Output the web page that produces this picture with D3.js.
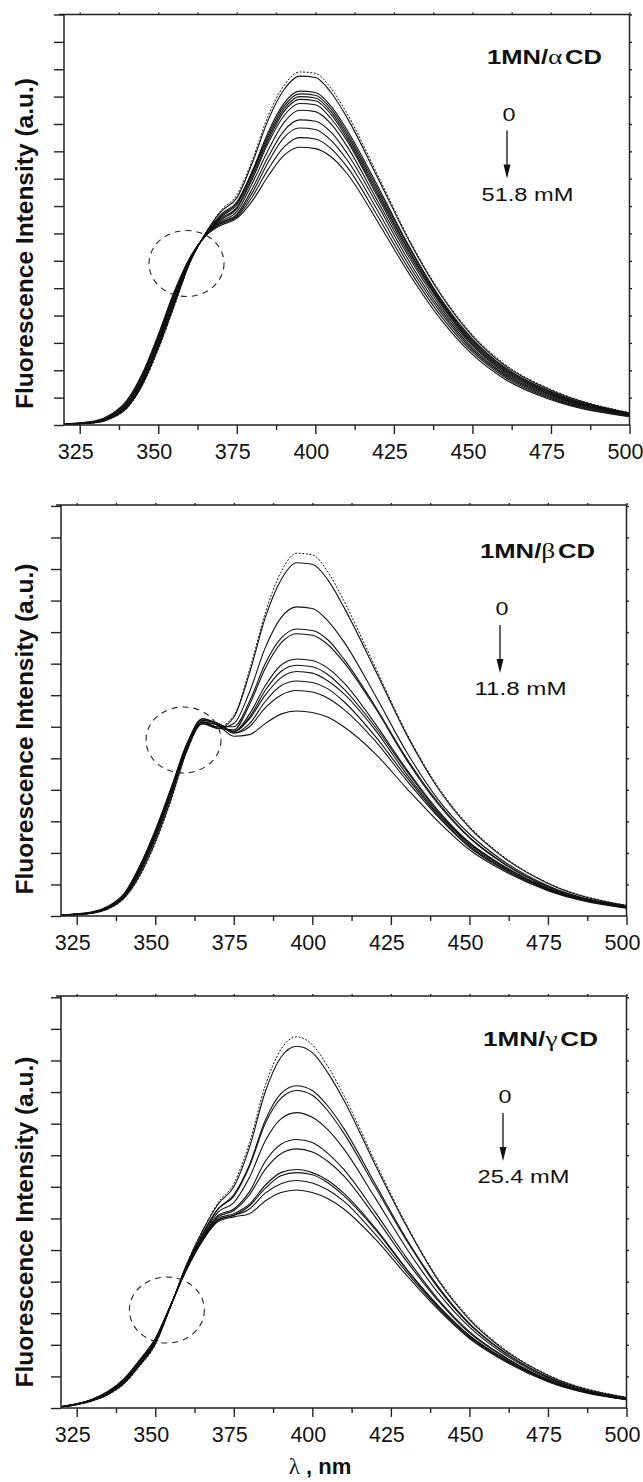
<!DOCTYPE html>
<html>
<head>
<meta charset="utf-8">
<script src="https://cdn.jsdelivr.net/npm/d3@7/dist/d3.min.js"></script>
<style>
  body { margin: 0; background: #fff; }
  svg { display: block; }
  text { fill: #111; }
</style>
</head>
<body>
<svg id="fig" width="643" height="1482"></svg>
<script>
// wavelength grid (nm) the spectra were read at
const wavelengths = [320, 330, 335, 340, 345, 350, 355, 360, 365, 370, 375, 380, 385, 390, 395, 400, 405, 410, 420, 430, 440, 450, 460, 475, 500];

// tick values
const majorTicks = [325, 350, 375, 400, 425, 450, 475, 500];
const minorTicks = [337.5, 362.5, 387.5, 412.5, 437.5, 462.5, 487.5];

// 1MN / alpha-CD  (0 mM dotted, then increasing CD)
const alphaRef = [0.02, 0.08, 0.24, 0.6, 1.45, 2.75, 4.3, 5.9, 7.0, 7.85, 8.4, 9.7, 11.3, 12.4, 12.9, 12.85, 12.3, 11.4, 9.1, 6.75, 4.8, 3.3, 2.25, 1.3, 0.45];
const alphaSeries = [
  [0.02, 0.08, 0.25, 0.62, 1.48, 2.8, 4.35, 5.92, 7.0, 7.8, 8.3, 9.6, 11.15, 12.25, 12.75, 12.7, 12.15, 11.25, 9.0, 6.7, 4.75, 3.25, 2.2, 1.27, 0.44],
  [0.02, 0.09, 0.26, 0.65, 1.52, 2.85, 4.4, 5.94, 6.98, 7.7, 8.15, 9.3, 10.7, 11.75, 12.2, 12.15, 11.65, 10.8, 8.7, 6.5, 4.6, 3.15, 2.13, 1.22, 0.42],
  [0.02, 0.09, 0.27, 0.67, 1.55, 2.9, 4.45, 5.95, 6.97, 7.65, 8.1, 9.25, 10.6, 11.65, 12.1, 12.05, 11.55, 10.7, 8.6, 6.45, 4.55, 3.1, 2.1, 1.2, 0.41],
  [0.02, 0.1, 0.28, 0.69, 1.58, 2.95, 4.5, 5.97, 6.96, 7.6, 8.05, 9.2, 10.5, 11.55, 12.0, 11.95, 11.45, 10.6, 8.5, 6.35, 4.5, 3.05, 2.06, 1.17, 0.4],
  [0.03, 0.1, 0.29, 0.71, 1.61, 3.0, 4.55, 5.98, 6.95, 7.55, 7.95, 9.1, 10.4, 11.45, 11.9, 11.85, 11.35, 10.5, 8.4, 6.3, 4.45, 3.0, 2.02, 1.14, 0.39],
  [0.03, 0.11, 0.3, 0.73, 1.65, 3.05, 4.6, 6.0, 6.95, 7.5, 7.9, 9.0, 10.3, 11.3, 11.75, 11.7, 11.2, 10.4, 8.3, 6.2, 4.4, 2.95, 1.98, 1.11, 0.38],
  [0.03, 0.11, 0.31, 0.76, 1.7, 3.1, 4.65, 6.02, 6.94, 7.45, 7.8, 8.85, 10.05, 11.05, 11.5, 11.45, 11.0, 10.2, 8.15, 6.1, 4.3, 2.9, 1.93, 1.08, 0.37],
  [0.03, 0.12, 0.33, 0.79, 1.75, 3.15, 4.7, 6.04, 6.93, 7.4, 7.7, 8.65, 9.8, 10.75, 11.15, 11.1, 10.7, 9.95, 8.0, 5.95, 4.2, 2.82, 1.88, 1.04, 0.35],
  [0.03, 0.13, 0.35, 0.82, 1.8, 3.2, 4.75, 6.06, 6.92, 7.38, 7.65, 8.5, 9.6, 10.5, 10.85, 10.8, 10.4, 9.7, 7.8, 5.8, 4.1, 2.75, 1.83, 1.0, 0.34],
  [0.04, 0.14, 0.37, 0.86, 1.85, 3.25, 4.8, 6.08, 6.9, 7.35, 7.6, 8.35, 9.35, 10.15, 10.5, 10.45, 10.1, 9.45, 7.6, 5.65, 3.98, 2.67, 1.77, 0.96, 0.32],
  [0.04, 0.15, 0.39, 0.9, 1.9, 3.3, 4.85, 6.1, 6.9, 7.3, 7.55, 8.2, 9.1, 9.85, 10.15, 10.1, 9.8, 9.2, 7.4, 5.5, 3.85, 2.58, 1.7, 0.92, 0.3]
];

// 1MN / beta-CD
const betaRef = [0.02, 0.09, 0.22, 0.55, 1.25, 2.3, 3.65, 5.2, 6.1, 6.0, 6.35, 7.8, 9.6, 10.9, 11.5, 11.45, 10.9, 10.0, 7.9, 5.8, 4.1, 2.85, 1.95, 1.05, 0.34];
const betaSeries = [
  [0.02, 0.09, 0.23, 0.56, 1.28, 2.35, 3.7, 5.22, 6.1, 5.95, 6.3, 7.7, 9.45, 10.65, 11.2, 11.15, 10.65, 9.8, 7.8, 5.75, 4.05, 2.8, 1.92, 1.03, 0.33],
  [0.02, 0.1, 0.24, 0.58, 1.35, 2.45, 3.8, 5.28, 6.1, 5.95, 6.1, 7.1, 8.5, 9.45, 9.8, 9.75, 9.35, 8.7, 7.0, 5.2, 3.7, 2.6, 1.8, 0.96, 0.31],
  [0.02, 0.1, 0.25, 0.6, 1.4, 2.5, 3.85, 5.3, 6.15, 6.0, 6.0, 6.8, 8.0, 8.8, 9.1, 9.05, 8.75, 8.15, 6.65, 5.0, 3.6, 2.5, 1.74, 0.93, 0.3],
  [0.02, 0.1, 0.25, 0.6, 1.42, 2.52, 3.88, 5.32, 6.15, 5.95, 5.9, 6.7, 7.85, 8.65, 8.95, 8.9, 8.6, 8.05, 6.6, 4.95, 3.55, 2.48, 1.72, 0.92, 0.3],
  [0.03, 0.11, 0.27, 0.62, 1.46, 2.58, 3.92, 5.35, 6.15, 6.05, 5.85, 6.4, 7.3, 7.95, 8.15, 8.1, 7.85, 7.4, 6.1, 4.65, 3.35, 2.33, 1.64, 0.88, 0.28],
  [0.03, 0.11, 0.27, 0.63, 1.48, 2.6, 3.94, 5.36, 6.15, 6.05, 5.85, 6.3, 7.15, 7.75, 7.95, 7.9, 7.65, 7.2, 6.0, 4.6, 3.3, 2.3, 1.62, 0.87, 0.28],
  [0.03, 0.12, 0.28, 0.64, 1.5, 2.62, 3.96, 5.38, 6.2, 6.1, 5.85, 6.25, 7.0, 7.55, 7.75, 7.7, 7.45, 7.05, 5.9, 4.5, 3.25, 2.27, 1.6, 0.86, 0.27],
  [0.03, 0.12, 0.29, 0.66, 1.52, 2.65, 4.0, 5.4, 6.2, 6.1, 5.8, 6.1, 6.8, 7.3, 7.45, 7.4, 7.2, 6.8, 5.7, 4.4, 3.2, 2.22, 1.56, 0.84, 0.27],
  [0.03, 0.12, 0.3, 0.68, 1.55, 2.68, 4.02, 5.42, 6.25, 6.1, 5.8, 6.0, 6.6, 7.0, 7.15, 7.1, 6.9, 6.55, 5.55, 4.3, 3.15, 2.18, 1.53, 0.82, 0.26],
  [0.03, 0.13, 0.31, 0.7, 1.58, 2.72, 4.05, 5.45, 6.25, 6.05, 5.7, 5.75, 6.1, 6.4, 6.5, 6.45, 6.3, 6.0, 5.15, 4.05, 3.0, 2.1, 1.48, 0.8, 0.25]
];

// 1MN / gamma-CD
const gammaRef = [0.03, 0.22, 0.42, 0.75, 1.32, 2.0, 3.25, 4.55, 5.6, 6.5, 7.1, 8.4, 10.2, 11.35, 11.75, 11.5, 10.8, 9.9, 7.8, 5.8, 4.1, 2.85, 1.95, 1.05, 0.34];
const gammaSeries = [
  [0.03, 0.23, 0.43, 0.77, 1.34, 2.02, 3.25, 4.55, 5.6, 6.45, 7.0, 8.25, 10.0, 11.1, 11.45, 11.25, 10.6, 9.75, 7.7, 5.75, 4.05, 2.8, 1.92, 1.03, 0.33],
  [0.03, 0.24, 0.45, 0.8, 1.37, 2.05, 3.25, 4.5, 5.5, 6.3, 6.75, 7.7, 9.1, 9.95, 10.2, 10.05, 9.55, 8.85, 7.1, 5.35, 3.85, 2.68, 1.85, 0.98, 0.31],
  [0.03, 0.24, 0.45, 0.8, 1.38, 2.06, 3.25, 4.5, 5.5, 6.3, 6.7, 7.65, 9.0, 9.8, 10.05, 9.9, 9.4, 8.7, 7.0, 5.3, 3.8, 2.65, 1.84, 0.97, 0.31],
  [0.04, 0.25, 0.47, 0.83, 1.41, 2.09, 3.25, 4.47, 5.45, 6.2, 6.5, 7.3, 8.45, 9.15, 9.35, 9.2, 8.8, 8.2, 6.65, 5.05, 3.65, 2.56, 1.78, 0.94, 0.3],
  [0.04, 0.26, 0.48, 0.85, 1.44, 2.12, 3.26, 4.45, 5.4, 6.1, 6.3, 6.85, 7.8, 8.35, 8.5, 8.4, 8.05, 7.55, 6.2, 4.75, 3.45, 2.42, 1.7, 0.9, 0.29],
  [0.04, 0.26, 0.49, 0.86, 1.45, 2.13, 3.26, 4.44, 5.38, 6.05, 6.25, 6.75, 7.55, 8.05, 8.2, 8.1, 7.8, 7.35, 6.05, 4.65, 3.4, 2.38, 1.68, 0.89, 0.28],
  [0.04, 0.27, 0.5, 0.88, 1.48, 2.16, 3.27, 4.42, 5.35, 6.0, 6.15, 6.45, 7.05, 7.45, 7.55, 7.45, 7.2, 6.8, 5.7, 4.4, 3.25, 2.3, 1.63, 0.87, 0.28],
  [0.04, 0.27, 0.5, 0.88, 1.49, 2.17, 3.27, 4.42, 5.33, 5.95, 6.1, 6.4, 6.95, 7.35, 7.45, 7.38, 7.12, 6.72, 5.65, 4.38, 3.22, 2.28, 1.61, 0.86, 0.27],
  [0.05, 0.28, 0.52, 0.9, 1.5, 2.19, 3.28, 4.4, 5.3, 5.95, 6.1, 6.3, 6.8, 7.1, 7.2, 7.12, 6.9, 6.55, 5.5, 4.3, 3.18, 2.24, 1.58, 0.85, 0.27],
  [0.05, 0.28, 0.53, 0.92, 1.52, 2.2, 3.28, 4.38, 5.28, 5.9, 6.05, 6.15, 6.55, 6.82, 6.9, 6.82, 6.62, 6.3, 5.35, 4.2, 3.12, 2.2, 1.55, 0.83, 0.26]
];

// isoemissive points circled in each panel [nm, intensity]
const isoPoints = [[359, 5.9], [359, 5.58], [353.7, 3.1]];
const hosts = ["α", "β", "γ"];
const maxConc = ["51.8 mM", "11.8 mM", "25.4 mM"];
const yMax = [15, 13.03, 13.04];

// layout of the three stacked panels
const panels = [
  { left: 64, right: 629.5, top: 14.5, bottom: 425, labelY: 243.5, titleX: 487, titleY: 63.5, zeroX: 509 },
  { left: 61, right: 626.5, top: 505, bottom: 916, labelY: 729, titleX: 480, titleY: 558, zeroX: 502 },
  { left: 61, right: 626.5, top: 996, bottom: 1408, labelY: 1222, titleX: 483, titleY: 1046, zeroX: 505 }
];
const refs = [alphaRef, betaRef, gammaRef];
const seriesSets = [alphaSeries, betaSeries, gammaSeries];

const svg = d3.select("#fig");
const sans = "'Liberation Sans', Arial, Helvetica, sans-serif";
const serif = "'Liberation Serif', 'Times New Roman', serif";

panels.forEach((p, i) => {
  const x = d3.scaleLinear().domain([320, 500]).range([p.left, p.right]);
  const y = d3.scaleLinear().domain([0, yMax[i]]).range([p.bottom, p.top]);
  const g = svg.append("g");

  const line = d3.line()
    .x((d, k) => x(wavelengths[k]))
    .y(d => y(d))
    .curve(d3.curveMonotoneX);

  // spectra
  g.selectAll("path.spec")
    .data(seriesSets[i])
    .enter().append("path")
    .attr("class", "spec")
    .attr("d", line)
    .attr("fill", "none")
    .attr("stroke", "#111")
    .attr("stroke-width", 1.1);

  g.append("path")
    .attr("d", line(refs[i]))
    .attr("fill", "none")
    .attr("stroke", "#111")
    .attr("stroke-width", 1)
    .attr("stroke-dasharray", "2,1.6");

  // dashed circle round the isoemissive point
  g.append("ellipse")
    .attr("cx", x(isoPoints[i][0]))
    .attr("cy", y(isoPoints[i][1]))
    .attr("rx", 37.5).attr("ry", 33)
    .attr("fill", "none")
    .attr("stroke", "#222")
    .attr("stroke-width", 1.1)
    .attr("stroke-dasharray", "6,5");

  // axes
  const yTicks = d3.range(0, Math.floor(yMax[i]) + 1);
  const bottomAx = g.append("g")
    .attr("transform", `translate(0,${p.bottom})`)
    .call(d3.axisBottom(x).tickValues(majorTicks).tickSize(9).tickPadding(10).tickSizeOuter(0));
  bottomAx.selectAll("text")
    .attr("x", -4.5)
    .style("font-family", sans)
    .style("font-size", "21.5px")
    .attr("fill", "#111");
  g.append("g")
    .attr("transform", `translate(0,${p.bottom})`)
    .call(d3.axisBottom(x).tickValues(minorTicks).tickSize(5).tickFormat("").tickSizeOuter(0));
  g.append("g")
    .attr("transform", `translate(0,${p.top})`)
    .call(d3.axisTop(x).tickValues(majorTicks.concat(minorTicks)).tickSize(2).tickFormat("").tickSizeOuter(0));
  g.append("g")
    .attr("transform", `translate(${p.left},0)`)
    .call(d3.axisLeft(y).tickValues(yTicks).tickSize(10).tickFormat("").tickSizeOuter(0));
  g.append("g")
    .attr("transform", `translate(${p.right},0)`)
    .call(d3.axisRight(y).tickValues(yTicks.slice(1)).tickSize(2.5).tickFormat("").tickSizeOuter(0));
  g.selectAll(".domain").remove();
  g.selectAll(".tick line").attr("stroke", "#222").attr("stroke-width", 1.4);

  g.append("line")
    .attr("x1", p.left - 5).attr("x2", p.left)
    .attr("y1", p.top).attr("y2", p.top)
    .attr("stroke", "#222").attr("stroke-width", 1.5);
  g.append("rect")
    .attr("x", p.left).attr("y", p.top)
    .attr("width", p.right - p.left).attr("height", p.bottom - p.top)
    .attr("fill", "none")
    .attr("stroke", "#222")
    .attr("stroke-width", 1.5);

  // y label
  g.append("text")
    .attr("transform", `translate(33,${p.labelY}) rotate(-90)`)
    .attr("text-anchor", "middle")
    .style("font-family", sans)
    .style("font-weight", "bold")
    .style("font-size", "24.5px")
    .text("Fluorescence Intensity (a.u.)");

  // legend: system name, arrow 0 -> max concentration
  const title = g.append("text")
    .attr("x", p.titleX).attr("y", p.titleY)
    .attr("textLength", 115)
    .attr("lengthAdjust", "spacingAndGlyphs")
    .style("font-family", sans)
    .style("font-size", "19.5px")
    .style("font-weight", "bold");
  title.append("tspan").text("1MN/");
  title.append("tspan").style("font-family", serif).style("font-weight", "normal").style("font-size", "21px").text(hosts[i]);
  title.append("tspan").attr("dx", 2).text("CD");

  const legTop = p.titleY - 49;
  g.append("text")
    .attr("x", p.zeroX).attr("y", legTop + 106)
    .attr("text-anchor", "middle")
    .attr("textLength", 13)
    .attr("lengthAdjust", "spacingAndGlyphs")
    .style("font-family", sans)
    .style("font-size", "18.5px")
    .text("0");
  const ax = p.zeroX - 2, tip = legTop + 164;
  g.append("line")
    .attr("x1", ax).attr("x2", ax)
    .attr("y1", legTop + 116).attr("y2", tip - 12)
    .attr("stroke", "#111")
    .attr("stroke-width", 1.3);
  g.append("path")
    .attr("d", `M${ax - 3.5},${tip - 14}L${ax + 3.5},${tip - 14}L${ax},${tip}Z`)
    .attr("fill", "#111");
  g.append("text")
    .attr("x", p.zeroX + 18.5).attr("y", legTop + 186)
    .attr("text-anchor", "middle")
    .attr("textLength", 92)
    .attr("lengthAdjust", "spacingAndGlyphs")
    .style("font-family", sans)
    .style("font-size", "18px")
    .text(maxConc[i]);
});

// x label under the last panel
const xl = svg.append("text")
  .attr("x", 320).attr("y", 1474)
  .attr("text-anchor", "middle")
  .style("font-family", sans)
  .style("font-size", "22px")
  .style("font-weight", "bold");
xl.append("tspan").style("font-family", serif).style("font-weight", "normal").style("font-size", "23px").text("λ");
xl.append("tspan").text(" , nm");
</script>
</body>
</html>
